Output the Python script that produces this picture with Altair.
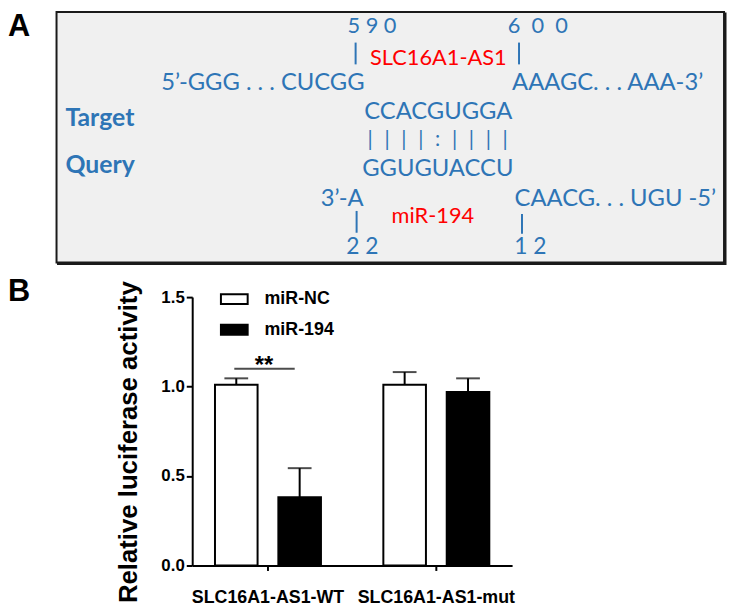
import altair as alt
import pandas as pd

# ---------------- Panel B data ----------------
groups = ["SLC16A1-AS1-WT", "SLC16A1-AS1-mut"]
series = ["miR-NC", "miR-194"]
mean_nc = [1.01, 1.01]
mean_194 = [0.382, 0.97]
upper_nc = [1.046, 1.081]
upper_194 = [0.544, 1.046]
y_ticks = [0.0, 0.5, 1.0, 1.5]
sig_group = ["SLC16A1-AS1-WT"]
sig_level = [1.10]
sig_label = ["**"]
panel_labels = ["A", "B"]

# ---------------- Panel A texts (sequence diagram) ----------------
seq_text = ["5\u00a09\u00a00", "6\u00a0\u00a00\u00a0\u00a00", "5\u2019-GGG . . . CUCGG",
            "AAAGC. . . AAA-3\u2019", "CCACGUGGA", "GGUGUACCU", "3\u2019-A",
            "CAACG. . . UGU -5\u2019", "2\u00a02", "1\u00a02"]
pair_text = ["|", "|", "|", "|", ":", "|", "|", "|", "|"]
red_text = ["SLC16A1-AS1", "miR-194"]
bold_text = ["Target", "Query"]

# layout of the diagram (page-pixel units) and font sizes
seq_x = [375.5, 543, 368, 517, 442.5, 442, 367, 519.5, 365.7, 535.5]
seq_y = [30, 30, 88, 88, 117, 175, 205, 205, 253, 253]
seq_size = [22, 22, 24, 24, 24, 24, 24, 24, 23, 23]
seq_align = ["center", "center", "right", "left", "center", "center", "right", "left", "center", "center"]
pair_x = [373.6, 390.7, 407.7, 424.8, 441.8, 458.9, 475.9, 493.0, 510.0]
pair_y = [138.5] * 9
red_x = [442.5, 437]
red_y = [63, 222]
bold_x = [66, 66]
bold_y = [124, 172]
tick_x = [359, 524, 360, 527]
tick_y1 = [40, 40, 210, 213]
tick_y2 = [62, 62, 232, 233]
box_extent = {"x": [57], "x2": [731], "y": [9], "y2": [262]}
shadow_extent = {"x": [58.5], "x2": [732.5], "y": [10.5], "y2": [263.5]}
label_x = [8, 8]
label_y = [9, 277]

# plot area of panel B in page pixels: x 194..517, y 297..568
PLOT_X = [194, 517]
PLOT_Y = [297, 568]

BLUE = "#2E75B6"
SEQ_FONT = "Lato"
ARIAL = "Liberation Sans"

xA = alt.Scale(domain=PLOT_X, nice=False, zero=False)
yA = alt.Scale(domain=PLOT_Y, nice=False, zero=False, reverse=True)


def enc_xy(ch):
    return ch.encode(x=alt.X("x:Q", scale=xA, axis=None), y=alt.Y("y:Q", scale=yA, axis=None), text="t:N")


def rect_layer(extent, **mk):
    return alt.Chart(pd.DataFrame(extent)).mark_rect(**mk).encode(
        x=alt.X("x:Q", scale=xA, axis=None), x2="x2:Q",
        y=alt.Y("y:Q", scale=yA, axis=None), y2="y2:Q")


shadow = rect_layer(shadow_extent, fill="#1A1A1A", stroke="#1A1A1A", strokeWidth=2)
box = rect_layer(box_extent, fill="#F0F0F0", stroke="#1A1A1A", strokeWidth=2)

seq_df = pd.DataFrame({"t": seq_text, "x": seq_x, "y": seq_y, "s": seq_size, "align": seq_align})
seq_layers = []
for al in ["left", "center", "right"]:
    seq_layers.append(enc_xy(
        alt.Chart(seq_df).transform_filter(alt.datum.align == al).mark_text(
            align=al, baseline="alphabetic", font=SEQ_FONT, color=BLUE)
    ).encode(size=alt.Size("s:Q", scale=None)))

pair_layer = enc_xy(alt.Chart(pd.DataFrame({"t": pair_text, "x": pair_x, "y": pair_y})).mark_text(
    align="center", baseline="middle", font=SEQ_FONT, fontSize=21, color=BLUE))

tick_layer = alt.Chart(pd.DataFrame({"x": tick_x, "y": tick_y1, "y2": tick_y2})).mark_rule(
    color=BLUE, strokeWidth=2
).encode(x=alt.X("x:Q", scale=xA, axis=None), y=alt.Y("y:Q", scale=yA, axis=None), y2="y2:Q")

red_layer = enc_xy(alt.Chart(pd.DataFrame({"t": red_text, "x": red_x, "y": red_y})).mark_text(
    align="center", baseline="alphabetic", font=SEQ_FONT, fontSize=22, color="#FF0000"))

bold_layer = enc_xy(alt.Chart(pd.DataFrame({"t": bold_text, "x": bold_x, "y": bold_y})).mark_text(
    align="left", baseline="alphabetic", font=SEQ_FONT, fontSize=25, fontWeight="bold", color=BLUE))

panel_label_layer = enc_xy(alt.Chart(pd.DataFrame({"t": panel_labels, "x": label_x, "y": label_y})).mark_text(
    align="left", baseline="top", font=ARIAL, fontSize=31, fontWeight="bold", color="black"))

diagram = alt.layer(shadow, box, *seq_layers, pair_layer, tick_layer, red_layer, bold_layer,
                    panel_label_layer)

# ---------------- Panel B ----------------
rows = []
for i, g in enumerate(groups):
    rows.append({"group": g, "series": series[0], "mean": mean_nc[i], "upper": upper_nc[i]})
    rows.append({"group": g, "series": series[1], "mean": mean_194[i], "upper": upper_194[i]})
df = pd.DataFrame(rows)

x_axis = alt.Axis(title=None, labelAngle=0, labelFont=ARIAL, labelFontSize=18, labelFontWeight="bold",
                  labelColor="black", labelPadding=18, tickSize=5, tickWidth=2, tickColor="black",
                  domainColor="black", domainWidth=2)
x_enc = alt.X("group:N", sort=groups,
              scale=alt.Scale(domain=groups, paddingInner=0.3706, paddingOuter=0.1353), axis=x_axis)
xo_enc = alt.XOffset("series:N", sort=series,
                     scale=alt.Scale(domain=series, paddingInner=0.328, paddingOuter=0))
y_scale = alt.Scale(domain=[0, 1.5], nice=False, zero=True)
y_axis = alt.Axis(title="Relative luciferase activity", values=y_ticks, format=".1f", grid=False,
                  labelFont=ARIAL, labelFontSize=17, labelFontWeight="bold", labelColor="black",
                  labelPadding=2, tickSize=6, tickWidth=2, tickColor="black",
                  domainColor="black", domainWidth=2,
                  titleFont=ARIAL, titleFontSize=26, titleFontWeight="bold", titleColor="black",
                  titleX=-51, titleY=146, titleBaseline="bottom", titleAngle=270)

bars = alt.Chart(df).mark_bar(stroke="black", strokeWidth=2).encode(
    x=x_enc, xOffset=xo_enc,
    y=alt.Y("mean:Q", scale=y_scale, axis=y_axis),
    fill=alt.Fill("series:N", sort=series, scale=alt.Scale(domain=series, range=["white", "black"]),
                  legend=alt.Legend(title=None, orient="none", legendX=31.5, legendY=-9,
                                    symbolType="M-1.35,-0.5H1.35V0.5H-1.35Z", symbolSize=400,
                                    symbolStrokeColor="black", symbolStrokeWidth=2,
                                    labelFont=ARIAL, labelFontSize=18, labelFontWeight="bold",
                                    labelColor="black", labelOffset=19.5, rowPadding=11, padding=0)),
)

err = alt.Chart(df).mark_rule(color="black", strokeWidth=2).encode(
    x=x_enc, xOffset=xo_enc,
    y=alt.Y("mean:Q", scale=y_scale, axis=y_axis), y2="upper:Q")

caps = alt.Chart(df).mark_tick(color="black", thickness=2, size=24, orient="horizontal").encode(
    x=x_enc, xOffset=xo_enc, y=alt.Y("upper:Q", scale=y_scale, axis=y_axis))

sig_df = pd.DataFrame({"group": sig_group, "y": sig_level, "t": sig_label})
sig_line = alt.Chart(sig_df).mark_tick(color="black", thickness=2, size=61, orient="horizontal",
                                       xOffset=-3.5).encode(
    x=x_enc, y=alt.Y("y:Q", scale=y_scale, axis=y_axis))
sig_text = alt.Chart(sig_df).mark_text(font=ARIAL, fontSize=24, fontWeight="bold", color="black",
                                       baseline="alphabetic", dx=-4, dy=4.3).encode(
    x=x_enc, y=alt.Y("y:Q", scale=y_scale, axis=y_axis), text="t:N")

barchart = alt.layer(bars, err, caps, sig_line, sig_text)

chart = alt.layer(barchart, diagram).resolve_scale(
    x="independent", y="independent"
).properties(width=323, height=271, padding=0).configure_view(stroke=None)

chart.save("out.html", embed_options={"renderer": "svg", "actions": False})
